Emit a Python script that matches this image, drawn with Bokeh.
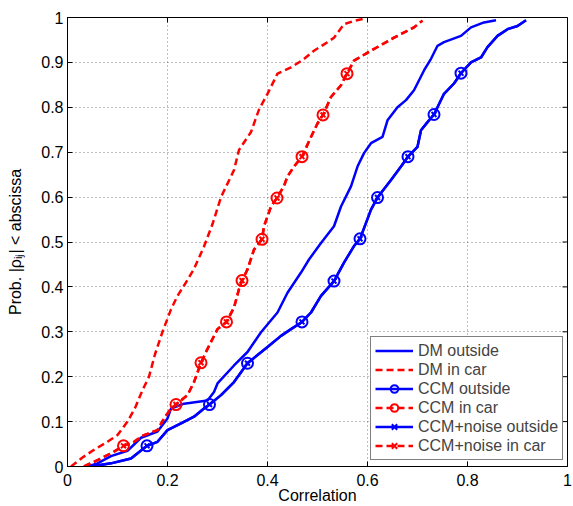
import math
from bokeh.plotting import figure
from bokeh.models import FixedTicker, Legend, LegendItem, Range1d
from bokeh.embed import file_html
from bokeh.resources import INLINE

# ---------------- data ----------------
x_ticks = [0, 0.2, 0.4, 0.6, 0.8, 1]
x_tick_labels = ["0", "0.2", "0.4", "0.6", "0.8", "1"]
y_ticks = [0, 0.1, 0.2, 0.3, 0.4, 0.5, 0.6, 0.7, 0.8, 0.9, 1]
y_tick_labels = ["0", "0.1", "0.2", "0.3", "0.4", "0.5", "0.6", "0.7", "0.8", "0.9", "1"]

series_labels = ["DM outside", "DM in car", "CCM outside", "CCM in car",
                 "CCM+noise outside", "CCM+noise in car"]

dm_out_x = [0.04, 0.06, 0.087, 0.12, 0.147, 0.18, 0.2, 0.207, 0.233, 0.28, 0.293, 0.3,
            0.333, 0.36, 0.387, 0.42, 0.44, 0.467, 0.483, 0.507, 0.533, 0.547, 0.567,
            0.58, 0.593, 0.607, 0.63, 0.64, 0.66, 0.677, 0.693, 0.713, 0.727, 0.74,
            0.753, 0.787, 0.807, 0.833, 0.857]
dm_out_y = [0.0, 0.007, 0.023, 0.035, 0.064, 0.078, 0.107, 0.129, 0.14, 0.147, 0.166, 0.185,
            0.225, 0.255, 0.299, 0.343, 0.387, 0.432, 0.461, 0.498, 0.535, 0.579, 0.624,
            0.668, 0.698, 0.72, 0.734, 0.771, 0.8, 0.816, 0.838, 0.882, 0.908, 0.937,
            0.945, 0.959, 0.978, 0.989, 0.994]

dm_car_x = [0.007, 0.03, 0.05, 0.08, 0.1, 0.12, 0.135, 0.15, 0.163, 0.175, 0.19, 0.207,
            0.22, 0.237, 0.253, 0.273, 0.29, 0.307, 0.32, 0.333, 0.343, 0.367, 0.383,
            0.4, 0.42, 0.447, 0.47, 0.493, 0.52, 0.533, 0.553, 0.575, 0.597]
dm_car_y = [0.0, 0.02, 0.035, 0.055, 0.07, 0.1, 0.13, 0.17, 0.2, 0.25, 0.3, 0.35,
            0.38, 0.41, 0.44, 0.49, 0.54, 0.6, 0.63, 0.66, 0.705, 0.745, 0.795,
            0.83, 0.875, 0.889, 0.905, 0.926, 0.945, 0.955, 0.985, 0.993, 0.998]

ccm_out_x = [0.047, 0.087, 0.127, 0.159, 0.18, 0.2, 0.227, 0.253, 0.273, 0.284, 0.307,
             0.333, 0.36, 0.4, 0.427, 0.447, 0.469, 0.487, 0.507, 0.533, 0.553, 0.573,
             0.585, 0.607, 0.62, 0.647, 0.667, 0.681, 0.7, 0.707, 0.72, 0.733, 0.753,
             0.773, 0.787, 0.807, 0.827, 0.84, 0.86, 0.88, 0.9, 0.917]
ccm_out_y = [0.0, 0.007, 0.018, 0.046, 0.055, 0.081, 0.096, 0.111, 0.129, 0.138, 0.159,
             0.188, 0.23, 0.266, 0.291, 0.306, 0.322, 0.343, 0.38, 0.413, 0.454, 0.491,
             0.507, 0.572, 0.599, 0.638, 0.668, 0.69, 0.712, 0.749, 0.767, 0.784, 0.83,
             0.853, 0.876, 0.9, 0.911, 0.934, 0.959, 0.974, 0.981, 0.994]
ccm_out_mk_x = [0.159, 0.284, 0.36, 0.469, 0.533, 0.585, 0.62, 0.681, 0.733, 0.787]
ccm_out_mk_y = [0.046, 0.138, 0.23, 0.322, 0.413, 0.507, 0.599, 0.69, 0.784, 0.876]

ccm_car_x = [0.033, 0.067, 0.093, 0.112, 0.133, 0.153, 0.18, 0.193, 0.207, 0.217, 0.24,
             0.253, 0.267, 0.28, 0.3, 0.318, 0.333, 0.343, 0.349, 0.36, 0.373, 0.389,
             0.393, 0.407, 0.419, 0.433, 0.44, 0.453, 0.469, 0.487, 0.5, 0.511, 0.527,
             0.547, 0.559, 0.573, 0.607, 0.653, 0.693, 0.71]
ccm_car_y = [0.0, 0.018, 0.033, 0.046, 0.055, 0.07, 0.081, 0.107, 0.129, 0.138, 0.159,
             0.188, 0.231, 0.262, 0.306, 0.322, 0.354, 0.395, 0.414, 0.439, 0.483, 0.506,
             0.535, 0.579, 0.598, 0.625, 0.646, 0.668, 0.69, 0.734, 0.764, 0.783, 0.823,
             0.849, 0.875, 0.904, 0.926, 0.955, 0.978, 0.993]
ccm_car_mk_x = [0.112, 0.217, 0.267, 0.318, 0.349, 0.389, 0.419, 0.469, 0.511, 0.559]
ccm_car_mk_y = [0.046, 0.138, 0.231, 0.322, 0.414, 0.506, 0.598, 0.69, 0.783, 0.875]

noise_out_x = [0.047, 0.087, 0.127, 0.159, 0.18, 0.2, 0.227, 0.253, 0.273, 0.284, 0.307,
               0.333, 0.36, 0.4, 0.427, 0.447, 0.469, 0.487, 0.507, 0.533, 0.553, 0.573,
               0.585, 0.607, 0.62, 0.647, 0.667, 0.681, 0.7, 0.707, 0.72, 0.733, 0.753,
               0.773, 0.787, 0.807, 0.827, 0.84, 0.86, 0.88, 0.9, 0.917]
noise_out_y = [0.0, 0.007, 0.018, 0.046, 0.055, 0.081, 0.096, 0.111, 0.129, 0.138, 0.159,
               0.188, 0.23, 0.266, 0.291, 0.306, 0.322, 0.343, 0.38, 0.413, 0.454, 0.491,
               0.507, 0.572, 0.599, 0.638, 0.668, 0.69, 0.712, 0.749, 0.767, 0.784, 0.83,
               0.853, 0.876, 0.9, 0.911, 0.934, 0.959, 0.974, 0.981, 0.994]
noise_out_mk_x = [0.159, 0.284, 0.36, 0.469, 0.533, 0.585, 0.62, 0.681, 0.733, 0.787]
noise_out_mk_y = [0.046, 0.138, 0.23, 0.322, 0.413, 0.507, 0.599, 0.69, 0.784, 0.876]

noise_car_x = [0.033, 0.067, 0.093, 0.112, 0.133, 0.153, 0.18, 0.193, 0.207, 0.217, 0.24,
               0.253, 0.267, 0.28, 0.3, 0.318, 0.333, 0.343, 0.349, 0.36, 0.373, 0.389,
               0.393, 0.407, 0.419, 0.433, 0.44, 0.453, 0.469, 0.487, 0.5, 0.511, 0.527,
               0.547, 0.559, 0.573, 0.607, 0.653, 0.693, 0.71]
noise_car_y = [0.0, 0.018, 0.033, 0.046, 0.055, 0.07, 0.081, 0.107, 0.129, 0.138, 0.159,
               0.188, 0.231, 0.262, 0.306, 0.322, 0.354, 0.395, 0.414, 0.439, 0.483, 0.506,
               0.535, 0.579, 0.598, 0.625, 0.646, 0.668, 0.69, 0.734, 0.764, 0.783, 0.823,
               0.849, 0.875, 0.904, 0.926, 0.955, 0.978, 0.993]
noise_car_mk_x = [0.112, 0.217, 0.267, 0.318, 0.349, 0.389, 0.419, 0.469, 0.511, 0.559]
noise_car_mk_y = [0.046, 0.138, 0.231, 0.322, 0.414, 0.506, 0.598, 0.69, 0.783, 0.875]

# ---------------- styling ----------------
FONT = "Liberation Sans"
BLUE = "#0000ff"
RED = "#ff0000"
LW = 2.5
DASH = "7 4"

p = figure(width=573, height=506,
           x_range=Range1d(x_ticks[0], x_ticks[-1]), y_range=Range1d(y_ticks[0], y_ticks[-1]),
           output_backend="svg", toolbar_location=None,
           min_border_left=67, min_border_right=6,
           min_border_top=17, min_border_bottom=38,
           x_axis_label="Correlation",
           y_axis_label="Prob. |\u03c1\u1d62\u2c7c| < abscissa")

p.background_fill_color = "white"
p.border_fill_color = "white"
p.outline_line_color = "black"
p.outline_line_width = 1

x_over = {t: s for t, s in zip(x_ticks, x_tick_labels)}
y_over = {t: s for t, s in zip(y_ticks, y_tick_labels)}

for ax, ticks, over in ((p.xaxis[0], x_ticks, x_over), (p.yaxis[0], y_ticks, y_over)):
    ax.ticker = FixedTicker(ticks=ticks)
    ax.major_label_overrides = over
    ax.major_tick_in = 5
    ax.major_tick_out = 0
    ax.minor_tick_line_color = None
    ax.axis_line_color = "black"
    ax.major_tick_line_color = "black"
    ax.major_label_text_font = FONT
    ax.major_label_text_font_size = "16px"
    ax.major_label_text_color = "black"
    ax.axis_label_text_font = FONT
    ax.axis_label_text_font_size = "16px"
    ax.axis_label_text_font_style = "normal"
    ax.axis_label_text_color = "black"

p.xaxis[0].major_label_standoff = 7
p.xaxis[0].axis_label_standoff = -2
p.yaxis[0].major_label_standoff = 4
p.yaxis[0].axis_label_standoff = 14

for g, ticks in ((p.xgrid[0], x_ticks), (p.ygrid[0], y_ticks)):
    g.ticker = FixedTicker(ticks=ticks)
    g.grid_line_color = "#444444"
    g.grid_line_alpha = 0.7
    g.grid_line_dash = "1 3"
    g.grid_line_width = 1

# inward ticks on the top and right edges of the box (clipped to the frame)
p.scatter(x_ticks, [y_ticks[-1]] * len(x_ticks), marker="dash", angle=math.pi / 2,
          size=10, line_color="black", line_width=1)
p.scatter([x_ticks[-1]] * len(y_ticks), y_ticks, marker="dash",
          size=10, line_color="black", line_width=1)

# ---------------- curves ----------------
r_dm_out = p.line(dm_out_x, dm_out_y, line_color=BLUE, line_width=LW)
r_dm_car = p.line(dm_car_x, dm_car_y, line_color=RED, line_width=LW, line_dash=DASH)

r_ccm_out = p.line(ccm_out_x, ccm_out_y, line_color=BLUE, line_width=LW)
m_ccm_out = p.scatter(ccm_out_mk_x, ccm_out_mk_y, marker="circle", size=11,
                      line_color=BLUE, line_width=2, fill_color=None)
r_ccm_car = p.line(ccm_car_x, ccm_car_y, line_color=RED, line_width=LW, line_dash=DASH)
m_ccm_car = p.scatter(ccm_car_mk_x, ccm_car_mk_y, marker="circle", size=11,
                      line_color=RED, line_width=2, fill_color=None)

r_nz_out = p.line(noise_out_x, noise_out_y, line_color=BLUE, line_width=LW)
m_nz_out = p.scatter(noise_out_mk_x, noise_out_mk_y, marker="x", size=7,
                     line_color=BLUE, line_width=2)
r_nz_car = p.line(noise_car_x, noise_car_y, line_color=RED, line_width=LW, line_dash=DASH)
m_nz_car = p.scatter(noise_car_mk_x, noise_car_mk_y, marker="x", size=7,
                     line_color=RED, line_width=2)

items = [
    LegendItem(label=series_labels[0], renderers=[r_dm_out]),
    LegendItem(label=series_labels[1], renderers=[r_dm_car]),
    LegendItem(label=series_labels[2], renderers=[r_ccm_out, m_ccm_out]),
    LegendItem(label=series_labels[3], renderers=[r_ccm_car, m_ccm_car]),
    LegendItem(label=series_labels[4], renderers=[r_nz_out, m_nz_out]),
    LegendItem(label=series_labels[5], renderers=[r_nz_car, m_nz_car]),
]
legend = Legend(items=items, location=(303, 6), margin=0, padding=4, spacing=0,
                glyph_width=38, glyph_height=19, label_height=19, label_standoff=5,
                label_text_font=FONT, label_text_font_size="16px",
                border_line_color="black", border_line_width=1,
                background_fill_color="white", background_fill_alpha=1.0)
p.add_layout(legend, "center")

open("out.html", "w").write(file_html(p, INLINE))
